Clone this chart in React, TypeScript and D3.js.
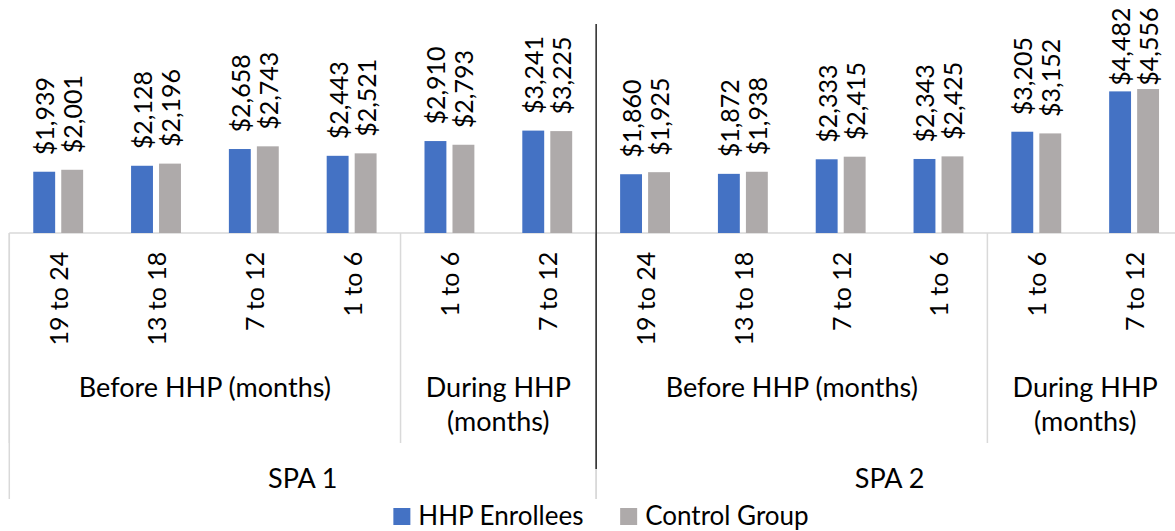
import React from "react";
import * as d3 from "d3";

const spas = ["SPA 1", "SPA 2"];
const periods = ["Before HHP (months)", "During HHP (months)"];
const periodLines = [["Before HHP (months)"], ["During HHP", "(months)"]];
const monthRanges = [
  ["19 to 24", "13 to 18", "7 to 12", "1 to 6"],
  ["1 to 6", "7 to 12"],
];
const seriesNames = ["HHP Enrollees", "Control Group"];
const seriesColors = ["#4472C4", "#AEAAAA"];
const enrollees = [1939, 2128, 2658, 2443, 2910, 3241, 1860, 1872, 2333, 2343, 3205, 4482];
const control = [2001, 2196, 2743, 2521, 2793, 3225, 1925, 1938, 2415, 2425, 3152, 4556];

const W = 1175;
const H = 531;
const FONT = "Lato, 'Open Sans', sans-serif";
const FS = 25;
const FS_GROUP = 27;
const FS_LEGEND = 26;

type Cat = { key: number; spa: number; period: number; label: string };
const cats: Cat[] = [];
spas.forEach((_, s) =>
  periods.forEach((_, p) =>
    monthRanges[p].forEach((label) => cats.push({ key: cats.length, spa: s, period: p, label }))
  )
);

let ctx: CanvasRenderingContext2D | null = null;
function measure(t: string, size = FS) {
  if (typeof document === "undefined") return t.length * size * 0.5;
  if (!ctx) ctx = document.createElement("canvas").getContext("2d");
  if (!ctx) return t.length * size * 0.5;
  ctx.font = `${size}px Lato`;
  return ctx.measureText(t).width;
}

const fmt = (v: number) => "$" + d3.format(",")(v);

export default function App() {
  const left = 9.3;
  const right = 1183;
  const base = 233;
  const x = d3
    .scaleBand<number>()
    .domain(cats.map((c) => c.key))
    .range([left, right])
    .paddingInner(0.49)
    .paddingOuter(0.245);
  const step = x.step();
  const xs = d3.scaleBand<number>().domain([0, 1]).range([0, x.bandwidth()]).paddingInner(0.218);
  const y = d3.scaleLinear().domain([0, 7000]).range([base, base - 7000 / 31.65]);
  const catLeft = (i: number) => left + i * step;

  const series = [enrollees, control];

  const periodGroups: { spa: number; period: number; start: number; end: number }[] = [];
  cats.forEach((c, i) => {
    const last = periodGroups[periodGroups.length - 1];
    if (last && last.spa === c.spa && last.period === c.period) last.end = i + 1;
    else periodGroups.push({ spa: c.spa, period: c.period, start: i, end: i + 1 });
  });
  const spaGroups = spas.map((_, s) => {
    const idx = cats.filter((c) => c.spa === s).map((c) => c.key);
    return { spa: s, start: d3.min(idx)!, end: d3.max(idx)! + 1 };
  });

  // legend layout
  const sq = 17;
  const gapSqText = 8;
  const gapItems = 36;
  const widths = seriesNames.map((n) => measure(n, FS_LEGEND));
  const totalLegend = widths.reduce((a, w) => a + sq + gapSqText + w, 0) + gapItems;
  let lx = 601 - totalLegend / 2;
  const legendItems = seriesNames.map((n, i) => {
    const item = { name: n, color: seriesColors[i], x: lx };
    lx += sq + gapSqText + widths[i] + gapItems;
    return item;
  });

  return (
    <svg
      width={W}
      height={H}
      style={{ position: "absolute", left: 0, top: 0, background: "#fff" }}
      fontFamily={FONT}
      fontSize={FS}
    >
      <line x1={left} x2={right} y1={base} y2={base} stroke="#D9D9D9" strokeWidth={1.5} />
      {periodGroups.map((g, i) => (
        <line
          key={"pd" + i}
          x1={catLeft(g.start)}
          x2={catLeft(g.start)}
          y1={base}
          y2={443}
          stroke="#D9D9D9"
          strokeWidth={1.5}
        />
      ))}
      {spaGroups.map((g, i) => (
        <g key={"sd" + i}>
          <line x1={catLeft(g.start)} x2={catLeft(g.start)} y1={base} y2={499} stroke="#D9D9D9" strokeWidth={1.5} />
          <line x1={catLeft(g.end)} x2={catLeft(g.end)} y1={base} y2={499} stroke="#D9D9D9" strokeWidth={1.5} />
        </g>
      ))}
      {series.map((vals, s) =>
        cats.map((c) => (
          <rect
            key={`b${s}-${c.key}`}
            x={x(c.key)! + xs(s)!}
            y={y(vals[c.key])}
            width={xs.bandwidth()}
            height={base - y(vals[c.key])}
            fill={seriesColors[s]}
          />
        ))
      )}
      {series.map((vals, s) =>
        cats.map((c) => {
          const t = fmt(vals[c.key]);
          const len = measure(t);
          const cx = x(c.key)! + xs(s)! + xs.bandwidth() / 2;
          const start = Math.max(y(vals[c.key]) - 16.5, 7.5 + len);
          return (
            <text
              key={`l${s}-${c.key}`}
              transform={`translate(${cx},${start}) rotate(-90)`}
              textAnchor="start"
              dominantBaseline="central"
              fill="#000"
            >
              {t}
            </text>
          );
        })
      )}
      {spaGroups.slice(1).map((g, i) => (
        <line
          key={"dark" + i}
          x1={catLeft(g.start)}
          x2={catLeft(g.start)}
          y1={24}
          y2={469}
          stroke="#262626"
          strokeWidth={1.5}
        />
      ))}
      {cats.map((c) => (
        <text
          key={"c" + c.key}
          transform={`translate(${x(c.key)! + x.bandwidth() / 2},${251.7}) rotate(-90)`}
          textAnchor="end"
          dominantBaseline="central"
          fill="#000"
        >
          {c.label}
        </text>
      ))}
      {periodGroups.map((g, i) => {
        const cx = (catLeft(g.start) + catLeft(g.end)) / 2;
        return (
          <text key={"p" + i} x={cx} y={397} textAnchor="middle" fill="#000" fontSize={FS_GROUP}>
            {periodLines[g.period].map((ln, j) => (
              <tspan key={j} x={cx} dy={j === 0 ? 0 : 34}>
                {ln}
              </tspan>
            ))}
          </text>
        );
      })}
      {spaGroups.map((g, i) => (
        <text
          key={"s" + i}
          x={(catLeft(g.start) + catLeft(g.end)) / 2}
          y={488}
          textAnchor="middle"
          fill="#000"
          fontSize={FS_GROUP}
        >
          {spas[g.spa]}
        </text>
      ))}
      {legendItems.map((it, i) => (
        <g key={"lg" + i}>
          <rect x={it.x} y={508} width={sq} height={sq} fill={it.color} />
          <text x={it.x + sq + gapSqText} y={525} fill="#000" fontSize={FS_LEGEND}>
            {it.name}
          </text>
        </g>
      ))}
    </svg>
  );
}
